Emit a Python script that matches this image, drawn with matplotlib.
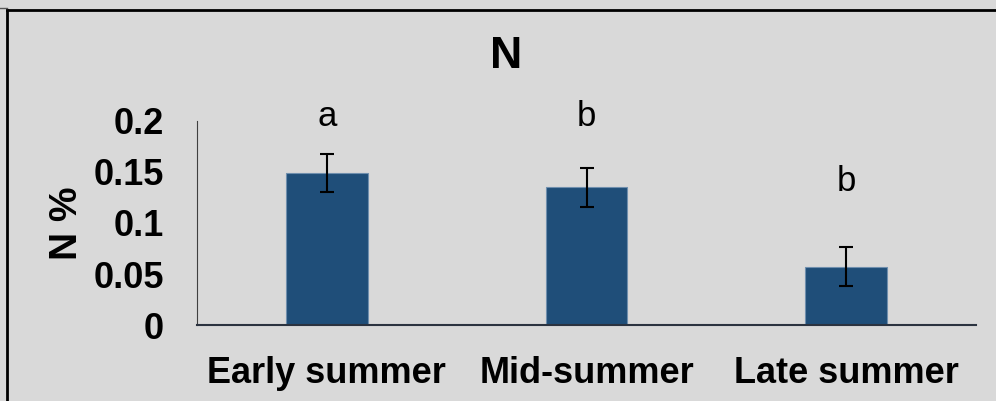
import matplotlib
matplotlib.use('Agg')
import matplotlib.pyplot as plt
from matplotlib.lines import Line2D

# nitrogen content by season
seasons = ['Early summer', 'Mid-summer', 'Late summer']
n_percent = [0.149, 0.135, 0.057]
n_err = [0.019, 0.019, 0.019]
sig_letters = ['a', 'b', 'b']
letter_y = [0.204, 0.204, 0.141]
yticks = [0, 0.05, 0.1, 0.15, 0.2]
ytick_labels = ['0', '0.05', '0.1', '0.15', '0.2']

plt.rcParams['font.family'] = ['Liberation Sans', 'DejaVu Sans']
bg = '#d9d9d9'

fig = plt.figure(figsize=(9.96, 4.01), dpi=100, facecolor=bg)
ax = fig.add_axes([0.1978, 0.1895, 0.7822, 0.5088], facecolor=bg)

x = range(len(seasons))
ax.bar(x, n_percent, width=0.314, color='#1f4e79', edgecolor='#6f8fae', linewidth=0.8, zorder=2)
ax.errorbar(x, n_percent, yerr=n_err, fmt='none', ecolor='black', elinewidth=1.5, capsize=5, capthick=1.5, zorder=3)

for i, (lab, yy) in enumerate(zip(sig_letters, letter_y)):
    ax.text(i, yy, lab, ha='center', va='center', fontsize=25, clip_on=False)

ax.set_xlim(-0.5, 2.5)
ax.set_ylim(0, 0.2)
ax.set_yticks(yticks)
ax.set_yticklabels(ytick_labels, fontsize=26, fontweight='bold')
ax.set_xticks(list(x))
ax.set_xticklabels(seasons, fontsize=26, fontweight='bold')
ax.tick_params(axis='y', length=0, pad=24)
ax.tick_params(axis='x', length=0, pad=22)

for side in ['top', 'right']:
    ax.spines[side].set_visible(False)
ax.spines['left'].set_color('#404040')
ax.spines['bottom'].set_color('#2b3340')
ax.spines['bottom'].set_linewidth(1.5)

ax.set_ylabel('N %', fontsize=28, fontweight='bold', labelpad=6)

fig.text(0.508, 0.858, 'N', ha='center', va='center', fontsize=32, fontweight='bold')

# outer frame lines
fig.add_artist(Line2D([0.007, 1.0], [0.974, 0.974], color='black', linewidth=2))
fig.add_artist(Line2D([0.007, 0.007], [0.0, 0.974], color='black', linewidth=2))
fig.add_artist(Line2D([0.0, 0.007], [0.979, 0.979], color='#555555', linewidth=1))

fig.savefig('out.png', dpi=100, facecolor=bg)
